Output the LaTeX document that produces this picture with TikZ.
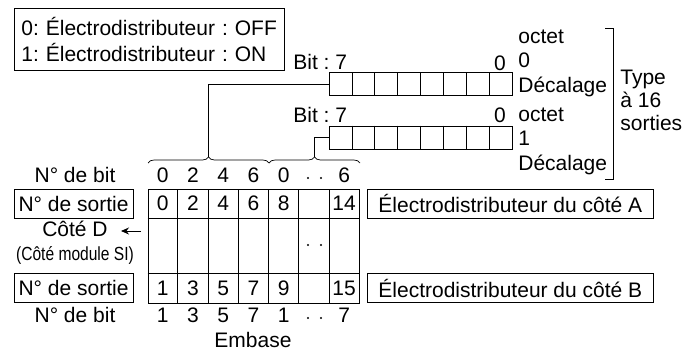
\documentclass[tikz,border=0pt]{standalone}
\usepackage{fontspec}
\setmainfont{Liberation Sans}
\frenchspacing
\usepackage{tikz}
\usetikzlibrary{
  positioning,
  calc,
  arrows.meta,
  decorations.pathreplacing
}

\begin{document}
\begin{tikzpicture}[x=1pt, y=-1pt, line width=0.7pt,
    every node/.style={font=\fontsize{21}{25}\selectfont, inner sep=0pt},
    outbox/.style={draw, minimum height=29pt},
    regbox/.style={draw, minimum width=183pt, minimum height=23pt, anchor=north west}]
      \useasboundingbox (0,0) rectangle (684,353);

      % Legend
      \node[draw, anchor=north west, text width=256pt, inner xsep=7pt,
            minimum height=62pt, align=left,
            font=\fontsize{21}{26}\selectfont] (legend) at (14,8)
            {0: Électrodistributeur : OFF\\1: Électrodistributeur : ON};

      % Output registers (byte 0 and byte 1)
      \node[regbox] (reg0) at (329,72) {};
      \node[regbox] (reg1) at (329,125.5) {};
      \foreach \i in {1,...,7} {
        \draw ($(reg0.north west)+(\i*22.875,0)$) -- ++(0,23);
        \draw ($(reg1.north west)+(\i*22.875,0)$) -- ++(0,23);
      }
      \node[anchor=west] (bit0) at (293,62) {Bit : 7};
      \node (zero0) at (500,63) {0};
      \node[anchor=west] (bit1) at (293,115) {Bit : 7};
      \node (zero1) at (500,115) {0};
      \node[anchor=west, align=left, font=\fontsize{21}{24.5}\selectfont] (oct0) at (518,63) {octet\\0\\Décalage};
      \node[anchor=west, align=left, font=\fontsize{21}{24.5}\selectfont] (oct1) at (518,141) {octet\\1\\Décalage};

      % Bracket for the 16 outputs
      \draw (605,28) -- (613,28) -- (613,179) -- (605,179);
      \node[anchor=west, align=left, font=\fontsize{21}{23}\selectfont] (type) at (620,100) {Type\\à 16\\sorties};

      % Braces over the bit numbers
      \draw[decorate, decoration={brace, amplitude=6pt}] (148,163) -- (269,163);
      \draw[decorate, decoration={brace, amplitude=6pt}] (269,163) -- (360,163);
      \coordinate (tip0) at (208.5,157);
      \coordinate (tip1) at (314.5,157);
      \draw (reg0.west) -| (tip0);
      \draw (reg1.west) -| (tip1);

      % Manifold table
      \node[draw, anchor=north west, minimum width=211.5pt, minimum height=114pt] (tbl) at (147.5,189) {};
      \draw (147.5,218) -- (359,218);
      \draw (147.5,273) -- (359,273);
      \foreach \c in {1,...,6} {
        \draw (147.5+\c*30.25,189) -- (147.5+\c*30.25,303);
      }

      % Bit and output numbers
      \foreach \c/\t/\s/\u/\v in {0/0/0/1/1, 1/2/2/3/3, 2/4/4/5/5, 3/6/6/7/7, 4/0/8/1/9, 6/6/14/7/15} {
        \node (bt\c) at (162.6+\c*30.25,175) {\t};
        \node (oa\c) at (162.6+\c*30.25,203.5) {\s};
        \node (ob\c) at (162.6+\c*30.25,288) {\v};
        \node (bb\c) at (162.6+\c*30.25,315) {\u};
      }
      \foreach \y in {178,245,318} {
        \fill (308,\y) circle (1.2);
        \fill (321,\y) circle (1.2);
      }

      % Left labels
      \node (bitA) at (75,175) {N° de bit};
      \node[outbox, minimum width=119pt] (outA) at (73.5,203.5) {N° de sortie};
      \node (coteD) at (75,229) {Côté D};
      \node[font=\fontsize{19}{22}\selectfont, xscale=0.82] (module) at (75,255) {(Côté module SI)};
      \node[outbox, minimum width=119pt] (outB) at (73.5,288) {N° de sortie};
      \node (bitB) at (75,315) {N° de bit};
      \coordinate (arrS) at (141,231);
      \coordinate (arrE) at (121,231);
      \draw[line width=1pt, -{Stealth[length=8pt, width=7pt]}] (arrS) -- (arrE);

      % Right labels
      \node[outbox, minimum width=286pt, anchor=west] (sideA) at (367,203.5) {Électrodistributeur du côté A};
      \node[outbox, minimum width=286pt, anchor=west] (sideB) at (367,288) {Électrodistributeur du côté B};

      \node (embase) at (253,340) {Embase};
    \end{tikzpicture}
\end{document}
